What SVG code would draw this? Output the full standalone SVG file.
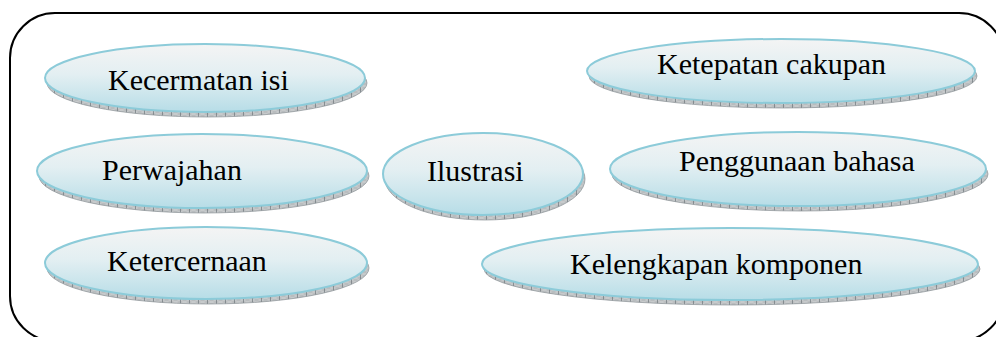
<svg xmlns="http://www.w3.org/2000/svg" width="996" height="337" viewBox="0 0 996 337">
  <defs>
    <linearGradient id="bubbleFill" x1="0" y1="0" x2="0" y2="1">
      <stop offset="0" stop-color="#f4f4f4"/>
      <stop offset="0.45" stop-color="#e3eff2"/>
      <stop offset="1" stop-color="#b7dde7"/>
    </linearGradient>
    <pattern id="edgeHatch" width="9" height="4" patternUnits="userSpaceOnUse">
      <rect width="9" height="4" fill="#b9bdbf"/>
      <path d="M0,0 L9,4 M0,4 L9,0" stroke="#d2d5d6" stroke-width="0.6"/>
      <line x1="0.5" y1="0" x2="0.5" y2="4" stroke="#6f777b" stroke-width="0.7"/>
    </pattern>
    <style>
      .edge { fill: url(#edgeHatch); stroke: #8a9195; stroke-width: 0.7; }
      .face { fill: url(#bubbleFill); stroke: #8ccbd9; stroke-width: 2; }
      .label { font-family: "Liberation Serif", "Times New Roman", serif; font-size: 30px; fill: #000; }
      .frame { fill: none; stroke: #000; stroke-width: 2; }
    </style>
  </defs>

  <!-- outer rounded frame -->
  <rect class="frame" x="10" y="13" width="994" height="328" rx="45" ry="45"/>

  <g id="kecermatan-isi">
    <ellipse class="edge" cx="207" cy="83" rx="160" ry="34"/>
    <ellipse class="face" cx="205" cy="78" rx="160" ry="34"/>
    <text class="label" x="108" y="90">Kecermatan isi</text>
  </g>

  <g id="perwajahan">
    <ellipse class="edge" cx="204" cy="176" rx="165" ry="37"/>
    <ellipse class="face" cx="202" cy="171" rx="165" ry="37"/>
    <text class="label" x="102" y="180">Perwajahan</text>
  </g>

  <g id="ketercernaan">
    <ellipse class="edge" cx="208" cy="268" rx="161" ry="36"/>
    <ellipse class="face" cx="206" cy="263" rx="161" ry="36"/>
    <text class="label" x="107" y="271">Ketercernaan</text>
  </g>

  <g id="ilustrasi">
    <ellipse class="edge" cx="485" cy="179" rx="100" ry="41"/>
    <ellipse class="face" cx="483" cy="174" rx="100" ry="41"/>
    <text class="label" x="427" y="181">Ilustrasi</text>
  </g>

  <g id="ketepatan-cakupan">
    <ellipse class="edge" cx="783" cy="76" rx="194" ry="32"/>
    <ellipse class="face" cx="781" cy="71" rx="194" ry="32"/>
    <text class="label" x="657" y="74">Ketepatan cakupan</text>
  </g>

  <g id="penggunaan-bahasa">
    <ellipse class="edge" cx="800" cy="174" rx="188" ry="37"/>
    <ellipse class="face" cx="798" cy="169" rx="188" ry="37"/>
    <text class="label" x="679" y="171">Penggunaan bahasa</text>
  </g>

  <g id="kelengkapan-komponen">
    <ellipse class="edge" cx="732" cy="269" rx="248" ry="36"/>
    <ellipse class="face" cx="730" cy="264" rx="248" ry="36"/>
    <text class="label" x="570" y="274">Kelengkapan komponen</text>
  </g>

  <g id="connectors"/>
</svg>
